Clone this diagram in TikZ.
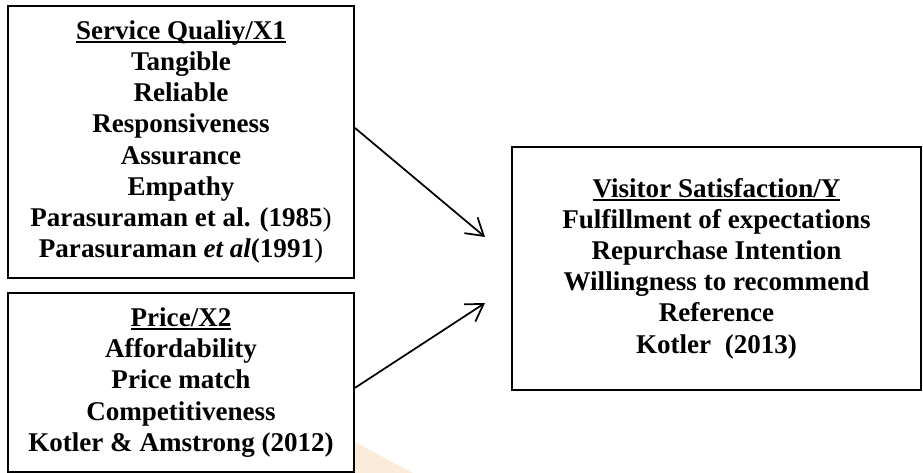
\documentclass[tikz,border=0pt]{standalone}
\usepackage{fontspec}
\setmainfont{Liberation Serif}
\usepackage{tikz}
\usetikzlibrary{arrows.meta}
\definecolor{wmark}{HTML}{FDEBD9}
\newcommand{\hdrline}[1]{\setbox0\hbox{#1}\rlap{\rule[-2.6pt]{\wd0}{1.3pt}}\box0}

\begin{document}
\begin{tikzpicture}[x=0.75pt,y=-0.75pt,
    box/.style={draw, line width=1.5pt, inner sep=0pt, align=center,
      font=\bfseries\fontsize{20.3}{23.4}\selectfont},
    link/.style={line width=1.3pt, -{Straight Barb[length=12.5pt,width=15.5pt]}}]
  \useasboundingbox (0,0) rectangle (923,473);
  % faint watermark corner
  \fill[wmark] (355,442) -- (413,473) -- (355,473) -- cycle;
  % Service quality box
  \node[box, minimum width=259.5pt, minimum height=204pt] (qual) at (181,142)
    {\hdrline{Service Qualiy/X1}\\ Tangible\\ Reliable\\ Responsiveness\\
     Assurance\\ Empathy\\ Parasuraman et al. (1985{\mdseries )}\\
     Parasuraman \textit{et al}(1991{\mdseries )}};
  % Price box
  \node[box, minimum width=259.5pt, minimum height=134.25pt] (price) at (181,382.5)
    {\hdrline{Price/X2}\\ Affordability\\ Price match\\ Competitiveness\\
     Kotler \& Amstrong (2012)};
  % Satisfaction box
  \node[box, minimum width=306.75pt, minimum height=182.25pt] (satis) at (716.5,268.5)
    {\hdrline{Visitor Satisfaction/Y}\\ Fulfillment of expectations\\
     Repurchase Intention\\ Willingness to recommend\\ Reference\\
     Kotler\ \ (2013)};
  % arrows
  \coordinate (tipA) at (485,237);
  \coordinate (tipB) at (485,303);
  \draw[link] ([yshift=10.5pt]qual.east) -- (tipA);
  \draw[link] ([yshift=-4pt]price.east) -- (tipB);
\end{tikzpicture}
\end{document}
